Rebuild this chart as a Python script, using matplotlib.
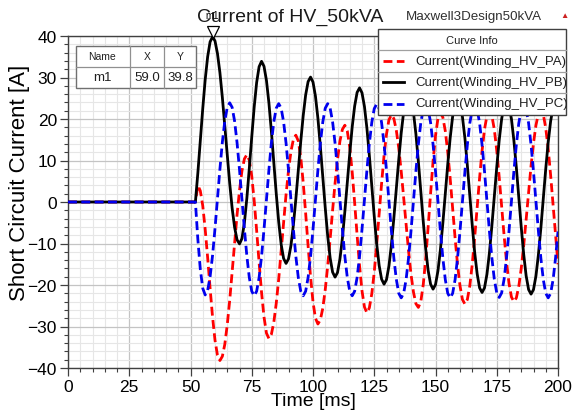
import numpy as np
import matplotlib
matplotlib.use("Agg")
import matplotlib.pyplot as plt
from matplotlib.patches import Rectangle
from matplotlib.lines import Line2D
from matplotlib.ticker import MultipleLocator
import matplotlib.transforms as mtransforms

plt.rcParams['font.family'] = ['Liberation Sans', 'DejaVu Sans']

# ---------------- data ----------------
time_ms = np.concatenate([[0], np.arange(52, 201)])

current_pa = [0.0,
    0.0, 4.0, 2.7, -0.9, -6.6, -13.4, -20.8, -27.7,
    -33.3, -36.9, -38.2, -37.2, -34.3, -29.6, -23.7, -16.9, -9.9, -3.1,
    2.8, 7.5, 10.4, 11.4, 10.1, 6.2, 0.3, -6.9, -14.6, -21.8,
    -27.7, -31.6, -32.9, -31.9, -29.0, -24.4, -18.6, -11.9, -4.9, 1.8,
    7.6, 12.2, 15.1, 16.1, 14.7, 10.8, 4.7, -2.7, -10.6, -18.0,
    -24.1, -28.0, -29.4, -28.4, -25.6, -21.1, -15.4, -8.9, -2.0, 4.5,
    10.2, 14.7, 17.5, 18.5, 17.1, 13.2, 7.2, -0.2, -8.0, -15.4,
    -21.4, -25.3, -26.7, -25.5, -22.1, -16.9, -10.2, -2.9, 4.5, 11.2,
    16.4, 19.8, 21.0, 20.1, 17.3, 13.0, 7.4, 1.1, -5.5, -11.8,
    -17.4, -21.7, -24.5, -25.4, -24.0, -19.9, -13.7, -6.0, 2.1, 9.8,
    16.0, 20.1, 21.5, 20.4, 17.1, 12.0, 5.6, -1.6, -8.7, -15.1,
    -20.2, -23.5, -24.6, -23.5, -20.2, -15.0, -8.5, -1.4, 5.8, 12.3,
    17.5, 20.8, 21.9, 20.8, 17.5, 12.4, 6.0, -1.1, -8.1, -14.5,
    -19.6, -22.9, -24.0, -23.1, -20.3, -16.0, -10.5, -4.2, 2.4, 8.7,
    14.2, 18.5, 21.3, 22.2, 21.1, 17.8, 12.8, 6.4, -0.7, -8.0,
    -15.0]

current_pb = [0.0,
    0.0, 7.0, 14.7, 22.5, 29.5, 35.0, 38.6, 39.8,
    38.8, 35.8, 31.2, 25.2, 18.4, 11.3, 4.5, -1.5, -6.1, -9.1,
    -10.1, -8.8, -5.0, 0.9, 8.1, 15.7, 22.9, 28.8, 32.6, 33.9,
    32.7, 29.3, 23.9, 17.1, 9.6, 2.0, -4.8, -10.2, -13.6, -14.8,
    -13.7, -10.5, -5.5, 0.7, 7.6, 14.6, 20.8, 25.8, 29.0, 30.1,
    28.9, 25.5, 20.2, 13.4, 6.0, -1.4, -8.2, -13.5, -16.9, -18.1,
    -17.0, -13.7, -8.7, -2.3, 4.7, 11.7, 18.1, 23.1, 26.4, 27.5,
    26.3, 23.0, 17.8, 11.2, 3.9, -3.5, -10.1, -15.3, -18.6, -19.8,
    -18.7, -15.4, -10.3, -3.9, 3.2, 10.2, 16.6, 21.7, 25.0, 26.1,
    24.9, 21.6, 16.4, 9.8, 2.6, -4.7, -11.3, -16.5, -19.8, -21.0,
    -19.9, -16.6, -11.5, -5.1, 2.0, 9.1, 15.5, 20.6, 23.9, 25.0,
    23.9, 20.5, 15.4, 8.8, 1.6, -5.6, -12.2, -17.3, -20.7, -21.8,
    -20.7, -17.4, -12.3, -5.8, 1.3, 8.4, 14.9, 20.0, 23.3, 24.4,
    23.3, 20.0, 14.8, 8.3, 1.1, -6.1, -12.6, -17.8, -21.1, -22.2,
    -21.1, -17.8, -12.7, -6.3, 0.9, 8.0, 14.4, 19.5, 22.8, 23.9,
    23.7]

current_pc = [0.0,
    0.0, -9.0, -16.2, -20.8, -22.4, -21.3, -18.0, -12.9,
    -6.4, 0.8, 7.9, 14.4, 19.5, 22.8, 23.9, 22.8, 19.5, 14.3,
    7.8, 0.7, -6.5, -13.0, -18.2, -21.5, -22.6, -21.5, -18.2, -13.1,
    -6.6, 0.6, 7.7, 14.2, 19.3, 22.6, 23.7, 22.6, 19.3, 14.2,
    7.7, 0.6, -6.6, -13.1, -18.2, -21.5, -22.6, -21.5, -18.2, -13.1,
    -6.6, 0.6, 7.7, 14.2, 19.3, 22.6, 23.7, 22.6, 19.3, 14.2,
    7.7, 0.6, -6.6, -13.1, -18.2, -21.5, -22.6, -21.5, -18.2, -13.1,
    -6.6, 0.5, 7.6, 14.1, 19.2, 22.5, 23.6, 22.5, 19.1, 14.0,
    7.5, 0.3, -7.0, -13.5, -18.6, -22.0, -23.1, -22.0, -18.7, -13.5,
    -7.0, 0.2, 7.4, 13.9, 19.1, 22.4, 23.5, 22.4, 19.1, 13.9,
    7.4, 0.2, -7.0, -13.5, -18.7, -22.0, -23.1, -22.0, -18.7, -13.5,
    -7.0, 0.2, 7.3, 13.8, 19.0, 22.3, 23.4, 22.3, 19.0, 13.8,
    7.4, 0.2, -7.0, -13.4, -18.6, -21.9, -23.0, -21.9, -18.6, -13.4,
    -7.0, 0.2, 7.4, 13.8, 19.0, 22.3, 23.4, 22.3, 19.0, 13.8,
    7.3, 0.2, -7.0, -13.5, -18.7, -22.0, -23.1, -22.0, -18.7, -13.5,
    -7.1]

series_names = ['Current(Winding_HV_PA)', 'Current(Winding_HV_PB)', 'Current(Winding_HV_PC)']
series_colors = ['#ff0000', '#000000', '#0000ee']
series_styles = [(0, (3.2, 1.6)), '-', (0, (3.2, 1.6))]

marker_name = 'm1'
marker_x = 59.0
marker_y = 39.8

title_text = 'Current of HV_50kVA'
design_text = 'Maxwell3Design50kVA'
x_label = 'Time [ms]'
y_label = 'Short Circuit Current [A]'

# ---------------- figure ----------------
W, H = 574, 414
fig = plt.figure(figsize=(W / 100, H / 100), dpi=100)
fig.patch.set_facecolor('white')

def fx(px):
    return px / W

def fy(py):
    return 1 - py / H

L, R, T, B = 68, 558, 37, 369
ax = fig.add_axes([fx(L), fy(B), (R - L) / W, (B - T) / H])

ax.set_xlim(0, 200)
ax.set_ylim(-40, 40)
ax.xaxis.set_major_locator(MultipleLocator(25))
ax.xaxis.set_minor_locator(MultipleLocator(5))
ax.yaxis.set_major_locator(MultipleLocator(10))
ax.yaxis.set_minor_locator(MultipleLocator(2))
ax.set_axisbelow(True)
ax.grid(which='minor', color='#e6e6e6', lw=0.8)
ax.grid(which='major', color='#c4c4c4', lw=0.9)

for s in ax.spines.values():
    s.set_color('#404040')
    s.set_linewidth(1.0)

ax.tick_params(which='major', direction='out', length=6, width=0.9,
               color='#404040', labelsize=12.5, pad=2.0)
ax.tick_params(which='minor', direction='out', length=3, width=0.8,
               color='#404040')

for vals, col, ls in zip([current_pa, current_pb, current_pc],
                         series_colors, series_styles):
    ax.plot(time_ms, vals, color=col, lw=2.0, ls=ls, zorder=3)

ax.set_xlabel(x_label, fontsize=14)
ax.xaxis.set_label_coords(0.5, (B - 402) / (B - T))
ax.xaxis.label.set_va('center')
ax.set_ylabel(y_label, fontsize=16)
ax.yaxis.set_label_coords((20 - L) / (R - L), (B - 183) / (B - T))
ax.yaxis.label.set_va('center')

# marker
tri_tr = mtransforms.offset_copy(ax.transData, fig=fig, y=3.4, units='points')
ax.plot([marker_x], [marker_y], marker='v', ms=8.5, mfc='white', mec='black',
        mew=0.9, transform=tri_tr, clip_on=False, zorder=6)

ax.text((290 - L) / (R - L), (B - 17) / (B - T), title_text,
        transform=ax.transAxes, ha='center', va='center', fontsize=14,
        color='#1a1a1a', zorder=5)
ax.annotate(marker_name, xy=(marker_x, marker_y), xytext=(0, 16),
            textcoords='offset points', ha='center', va='center',
            fontsize=7, color='black', annotation_clip=False, zorder=7)

fig.text(fx(474), fy(17), design_text, ha='center', va='center',
         fontsize=9.6, color='#303030')
fig.text(fx(564), fy(16), '\u25B2', ha='center', va='center',
         fontsize=6, color='#cc2222')

# marker table
def frect(x0, y0, x1, y1, **kw):
    r = Rectangle((fx(x0), fy(y1)), fx(x1) - fx(x0), fy(y0) - fy(y1),
                  transform=fig.transFigure, **kw)
    fig.add_artist(r)

def fline(x0, y0, x1, y1, **kw):
    fig.add_artist(Line2D([fx(x0), fx(x1)], [fy(y0), fy(y1)],
                          transform=fig.transFigure, **kw))

frect(76, 47, 196, 89, facecolor='white', edgecolor='#707070', lw=1.0, zorder=8)
fline(76, 67.5, 196, 67.5, color='#909090', lw=0.9, zorder=9)
fline(130, 47, 130, 89, color='#909090', lw=0.9, zorder=9)
fline(164, 47, 164, 89, color='#909090', lw=0.9, zorder=9)
for xc, txt in [(102, 'Name'), (147, 'X'), (180, 'Y')]:
    fig.text(fx(xc), fy(57.5), txt, ha='center', va='center', fontsize=7.5,
             color='#202020', zorder=10)
for xc, txt in [(102, marker_name), (147, f'{marker_x:.1f}'), (180, f'{marker_y:.1f}')]:
    fig.text(fx(xc), fy(78.5), txt, ha='center', va='center', fontsize=9.5,
             color='#202020', zorder=10)

# legend ("Curve Info")
LX0, LX1, LY0, LY1 = 378, 566, 30, 116
frect(LX0, LY0, LX1, LY1, facecolor='white', edgecolor='#404040', lw=1.0, zorder=8)
fig.text(fx(472), fy(41), 'Curve Info', ha='center', va='center',
         fontsize=8, color='#202020', zorder=10)
row_tops = [51, 72.5, 94]
for yt in row_tops:
    fline(LX0, yt, LX1, yt, color='#a0a0a0', lw=0.9, zorder=9)
row_centers = [61.5, 83, 104.5]
for yc, name, col, ls in zip(row_centers, series_names, series_colors, series_styles):
    fig.add_artist(Line2D([fx(383), fx(404)], [fy(yc), fy(yc)],
                          transform=fig.transFigure, color=col, lw=2.0,
                          ls=ls, zorder=10))
    fig.text(fx(415), fy(yc), name, ha='left', va='center', fontsize=9.5,
             color='#202020', zorder=10)

fig.savefig('out.png', dpi=100, facecolor='white')
